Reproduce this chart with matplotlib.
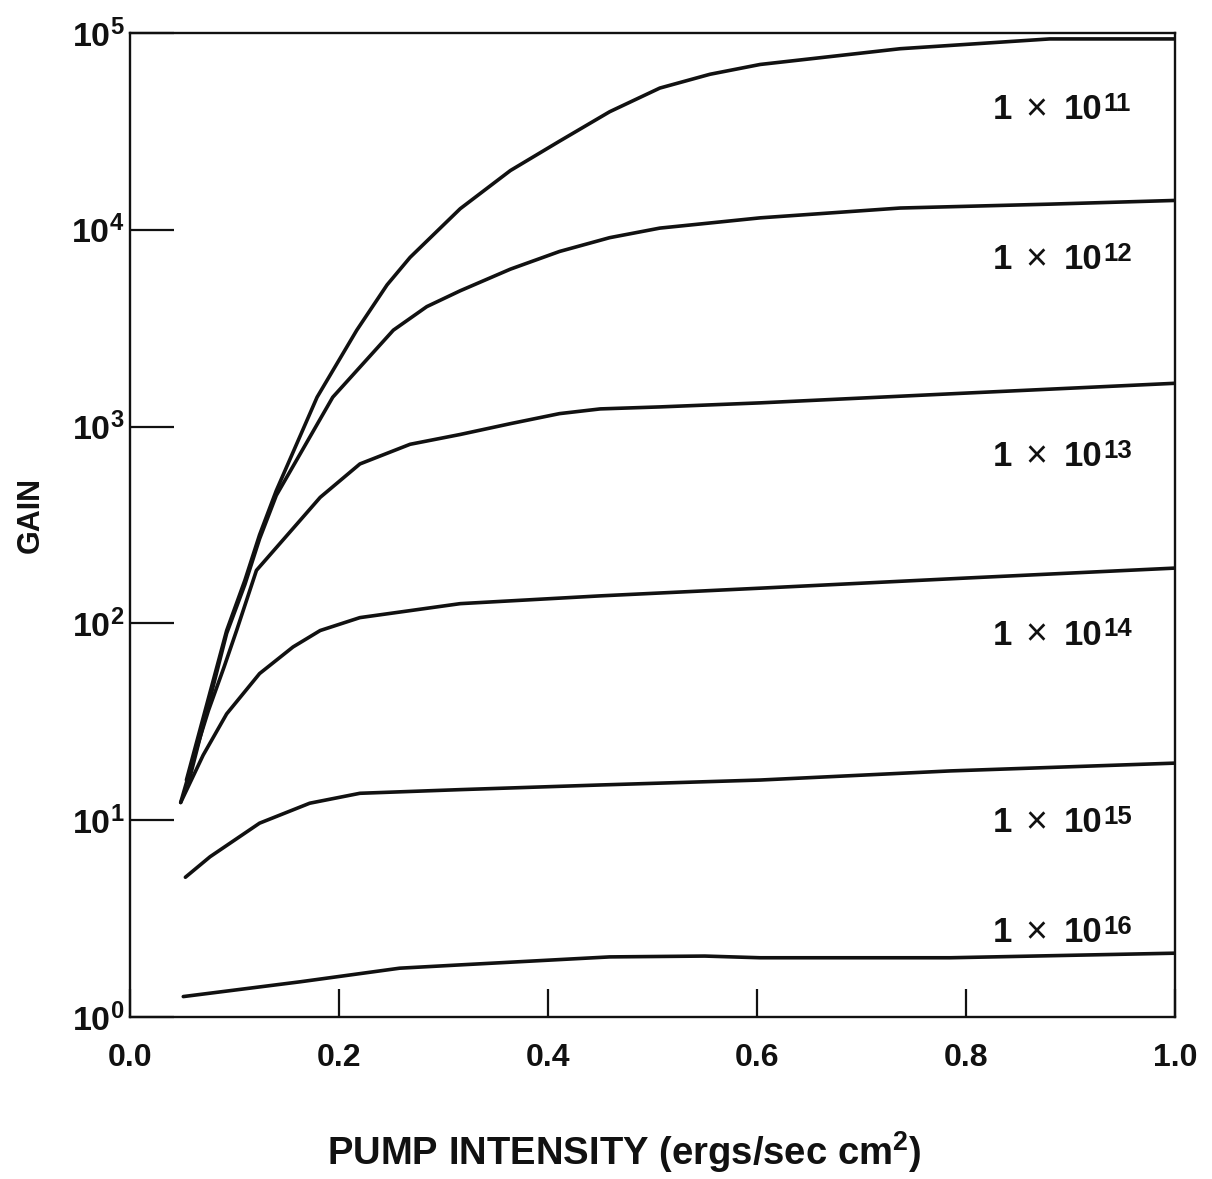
import matplotlib
matplotlib.use("Agg")
import matplotlib.pyplot as plt
from matplotlib.ticker import FixedLocator, FixedFormatter, NullLocator

# Bold Helvetica-like lettering throughout, including the math superscripts
plt.rcParams["font.family"] = ["Liberation Sans", "DejaVu Sans"]
plt.rcParams["font.weight"] = "bold"
plt.rcParams["mathtext.fontset"] = "custom"
for key in ("rm", "it", "bf", "sf"):
    plt.rcParams["mathtext." + key] = "Liberation Sans:bold"
plt.rcParams["mathtext.default"] = "rm"

INK = "#111111"

# Gain versus pump intensity for six absorber densities
densities = ["11", "12", "13", "14", "15", "16"]

pump_1e11 = [0.054, 0.0925, 0.110, 0.124, 0.140, 0.179, 0.217, 0.246, 0.268, 0.316,
             0.364, 0.411, 0.459, 0.507, 0.555, 0.603, 0.737, 0.88, 1.0]
gain_1e11 = [16, 92, 166, 282, 473, 1410, 3090, 5250, 7240, 12800,
             20000, 28200, 39800, 52500, 61700, 69200, 83200, 93300, 93300]

pump_1e12 = [0.056, 0.0925, 0.110, 0.124, 0.140, 0.194, 0.252, 0.284, 0.316, 0.364,
             0.411, 0.459, 0.507, 0.603, 0.737, 0.88, 1.0]
gain_1e12 = [15.5, 89, 158, 269, 447, 1410, 3090, 4070, 4900, 6310,
             7760, 9120, 10200, 11500, 12900, 13500, 14100]

pump_1e13 = [0.0485, 0.060, 0.075, 0.090, 0.102, 0.121, 0.160, 0.182, 0.220, 0.268,
             0.316, 0.364, 0.411, 0.450, 0.507, 0.603, 0.80, 1.0]
gain_1e13 = [12.3, 20, 36, 60, 92, 186, 321, 437, 646, 813,
             912, 1035, 1164, 1230, 1259, 1320, 1480, 1660]

pump_1e14 = [0.0485, 0.070, 0.0925, 0.124, 0.156, 0.182, 0.220, 0.316, 0.45, 0.603, 0.80, 1.0]
gain_1e14 = [12.3, 21.4, 34.7, 55.6, 75.9, 92, 107, 126, 138, 151, 170, 191]

pump_1e15 = [0.053, 0.0766, 0.124, 0.172, 0.22, 0.316, 0.45, 0.603, 0.785, 1.0]
gain_1e15 = [5.13, 6.52, 9.66, 12.2, 13.7, 14.3, 15.1, 16.0, 17.8, 19.5]

pump_1e16 = [0.051, 0.163, 0.258, 0.316, 0.459, 0.55, 0.603, 0.785, 1.0]
gain_1e16 = [1.27, 1.51, 1.77, 1.84, 2.02, 2.04, 2.00, 2.00, 2.11]

x_ticks = [0.0, 0.2, 0.4, 0.6, 0.8, 1.0]
x_tick_labels = ["0.0", "0.2", "0.4", "0.6", "0.8", "1.0"]
y_ticks = [1, 10, 100, 1000, 10000, 100000]
y_tick_labels = [r"$10^{0}$", r"$10^{1}$", r"$10^{2}$", r"$10^{3}$", r"$10^{4}$", r"$10^{5}$"]

series = [
    (pump_1e11, gain_1e11),
    (pump_1e12, gain_1e12),
    (pump_1e13, gain_1e13),
    (pump_1e14, gain_1e14),
    (pump_1e15, gain_1e15),
    (pump_1e16, gain_1e16),
]
# baseline heights (gain units) for the density labels
label_heights = [36600, 6300, 630, 78, 8.7, 2.4]
label_x = 0.826

fig = plt.figure(figsize=(12.12, 11.79), dpi=100)
ax = fig.add_axes([130 / 1212, 1 - 1017 / 1179, 1045 / 1212, 984 / 1179])

for (px, g) in series:
    ax.plot(px, g, color=INK, lw=2.6, solid_capstyle="round",
            solid_joinstyle="round")

# "1 × 10^n" labels, laid out piece by piece
for dens, h in zip(densities, label_heights):
    common = dict(xy=(label_x, h), textcoords="offset points", ha="left",
                  va="baseline", color=INK)
    ax.annotate("1", xytext=(0, 0), fontsize=25, fontweight="bold", **common)
    ax.annotate("×", xytext=(23.5, -0.8), fontsize=27, fontweight="normal", **common)
    ax.annotate("10", xytext=(50.5, 0), fontsize=25, fontweight="bold", **common)
    ax.annotate(dens, xytext=(79, 6), fontsize=18.5, fontweight="bold", **common)

ax.set_yscale("log")
ax.set_xlim(0, 1)
ax.set_ylim(1, 1e5)

ax.xaxis.set_major_locator(FixedLocator(x_ticks))
ax.xaxis.set_major_formatter(FixedFormatter(x_tick_labels))
ax.yaxis.set_major_locator(FixedLocator(y_ticks))
ax.yaxis.set_major_formatter(FixedFormatter(y_tick_labels))
ax.yaxis.set_minor_locator(NullLocator())
ax.xaxis.set_minor_locator(NullLocator())

ax.tick_params(axis="x", direction="in", length=20, width=1.6, pad=19,
               labelsize=23, colors=INK, top=False)
ax.tick_params(axis="y", direction="in", length=32, width=1.6, pad=4,
               labelsize=24.5, colors=INK, right=False)
for lab in ax.get_xticklabels() + ax.get_yticklabels():
    lab.set_fontweight("bold")

for sp in ax.spines.values():
    sp.set_linewidth(1.7)
    sp.set_color(INK)

fig.text(31 / 1212, 1 - 515 / 1179, "GAIN", rotation=90, fontsize=22,
         fontweight="bold", ha="center", va="center", color=INK)
fig.text(624 / 1212, 1 - 1152 / 1179, "PUMP INTENSITY (ergs/sec cm$^{2}$)",
         fontsize=27.5, fontweight="bold", ha="center", va="center", color=INK)

fig.savefig("out.png", dpi=100, facecolor="white")
